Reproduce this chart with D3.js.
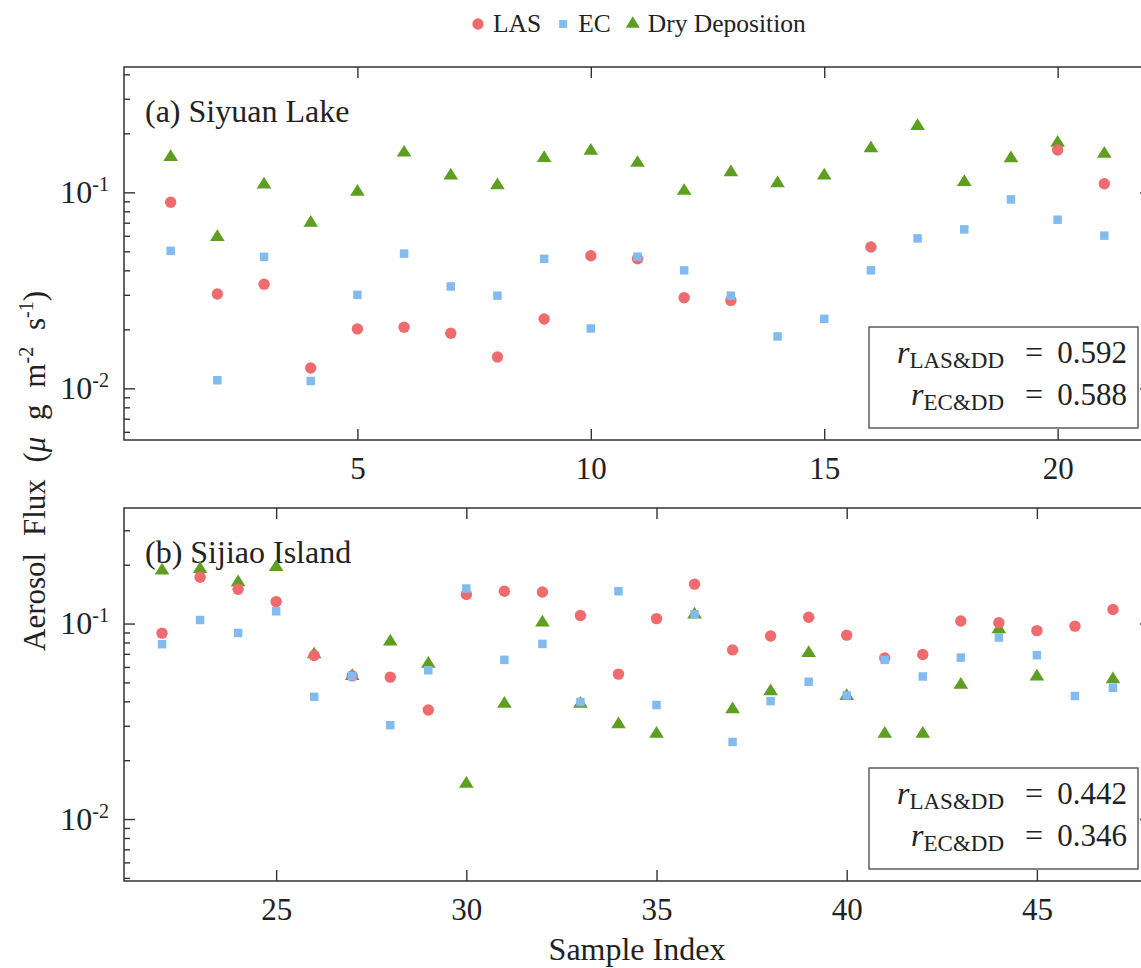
<!DOCTYPE html>
<html>
<head>
<meta charset="utf-8">
<script src="https://cdn.jsdelivr.net/npm/d3@7"></script>
<style>
  body { margin: 0; background: #fff; }
  text { font-family: "Liberation Serif", "Times New Roman", serif; fill: #222; white-space: pre; }
</style>
</head>
<body>
<svg id="chart" width="1141" height="968"></svg>
<script>
// (a) Siyuan Lake
var sampleA = [1, 2, 3, 4, 5, 6, 7, 8, 9, 10, 11, 12, 13, 14, 15, 16, 17, 18, 19, 20, 21];
var lasA = [0.089, 0.0303, 0.034, 0.0127, 0.0201, 0.0205, 0.0191, 0.01445, 0.0226, 0.0475, 0.0458,
            0.029, 0.0281, null, null, 0.0526, null, null, null, 0.1644, 0.1106];
var ecA = [0.0503, 0.011, 0.0469, 0.0109, 0.030, 0.0487, 0.0331, 0.0297, 0.0458, 0.0202, 0.047,
           0.040, 0.0297, 0.0184, 0.0226, 0.040, 0.0582, 0.0647, 0.092, 0.0725, 0.0601];
var ddA = [0.155, 0.0605, 0.112, 0.0716, 0.103, 0.163, 0.1245, 0.111, 0.153, 0.1665, 0.1445,
           0.104, 0.1295, 0.1138, 0.1245, 0.1717, 0.223, 0.1155, 0.1527, 0.183, 0.161];

// (b) Sijiao Island
var sampleB = [22, 23, 24, 25, 26, 27, 28, 29, 30, 31, 32, 33, 34, 35, 36, 37, 38, 39, 40, 41, 42, 43, 44, 45, 46, 47];
var lasB = [0.0893, 0.1725, 0.1497, 0.1295, 0.0686, 0.054, 0.0532, 0.0361, 0.141, 0.1463, 0.145, 0.11, 0.0551,
            0.106, 0.159, 0.0733, 0.0864, 0.1077, 0.0872, 0.0667, 0.0695, 0.103, 0.101, 0.092, 0.097, 0.118];
var ecB = [0.0784, 0.1043, 0.0895, 0.1155, 0.0422, 0.0538, 0.0302, 0.0577, 0.151, 0.0652, 0.0787, 0.0397, 0.1463,
           0.0383, 0.1116, 0.0248, 0.0401, 0.0504, 0.0429, 0.0652, 0.0536, 0.067, 0.0848, 0.0689, 0.0426, 0.0469];
var ddB = [0.191, 0.1945, 0.1665, 0.1987, 0.0711, 0.0551, 0.0828, 0.0637, 0.0155, 0.0398, 0.1036, 0.0398, 0.0312,
           0.0279, 0.1138, 0.0373, 0.046, 0.0722, 0.0435, 0.0279, 0.0279, 0.0497, 0.0955, 0.0548, null, 0.053];

var xTicksA = [5, 10, 15, 20];
var xTicksB = [25, 30, 35, 40, 45];
var yMajor = [0.01, 0.1];
var seriesNames = ["LAS", "EC", "Dry Deposition"];
var corrA = ["0.592", "0.588"];
var corrB = ["0.442", "0.346"];

var colors = {LAS: "#ef6b6e", EC: "#82bbef", DD: "#5e9e22"};
var axisColor = "#333";

var svg = d3.select("#chart");
var left = 124, right = 1151;

// triangle drawn around its box centre
var tri = {
    draw: function(ctx, size) {
        var w = Math.sqrt(size), h = w * 0.8;
        ctx.moveTo(0, -h / 2);
        ctx.lineTo(w / 2, h / 2);
        ctx.lineTo(-w / 2, h / 2);
        ctx.closePath();
    }
};

function drawPanel(p) {
    var x = d3.scaleLinear().domain(p.xDomain).range([left, right]);
    var y = d3.scaleLog().domain(p.yDomain).range([p.bottom, p.top]);
    var g = svg.append("g");

    var minor = y.ticks().filter(function(v) {
        return Math.abs(Math.log10(v) - Math.round(Math.log10(v))) > 1e-6;
    });

    function style(sel) {
        sel.select(".domain").remove();
        sel.selectAll("line").attr("stroke", axisColor).attr("stroke-width", 1.4);
    }

    g.append("g").attr("transform", "translate(0," + p.bottom + ")")
        .call(d3.axisBottom(x).tickValues(p.xTicks).tickSize(-11).tickPadding(17).tickFormat(d3.format("d")))
        .call(style)
        .selectAll("text").attr("font-size", 31).attr("fill", "#222");
    g.append("g").attr("transform", "translate(0," + p.top + ")")
        .call(d3.axisTop(x).tickValues(p.xTicks).tickSize(-11).tickFormat(""))
        .call(style);

    [[d3.axisLeft, left], [d3.axisRight, right]].forEach(function(a) {
        g.append("g").attr("transform", "translate(" + a[1] + ",0)")
            .call(a[0](y).tickValues(yMajor).tickSize(-11).tickFormat(""))
            .call(style);
        g.append("g").attr("transform", "translate(" + a[1] + ",0)")
            .call(a[0](y).tickValues(minor).tickSize(-6).tickFormat(""))
            .call(style);
    });

    // log labels 10^n
    var lab = g.selectAll(".ylab").data(yMajor).enter().append("text")
        .attr("class", "ylab")
        .attr("x", 109)
        .attr("y", function(d) { return y(d) + 10.5; })
        .attr("text-anchor", "end")
        .attr("font-size", 32);
    lab.append("tspan").text("10");
    lab.append("tspan").attr("font-size", 20).attr("dy", -12)
        .text(function(d) { return "-" + Math.round(-Math.log10(d)); });

    g.append("rect")
        .attr("x", left).attr("y", p.top)
        .attr("width", right - left).attr("height", p.bottom - p.top)
        .attr("fill", "none").attr("stroke", axisColor).attr("stroke-width", 1.5);

    g.append("text").attr("x", 145).attr("y", p.top + 55).attr("font-size", 32).text(p.title);

    var sets = [
        {vals: p.dd, type: tri, size: 215, color: colors.DD},
        {vals: p.las, type: d3.symbolCircle, size: 102, color: colors.LAS},
        {vals: p.ec, type: d3.symbolSquare, size: 72, color: colors.EC}
    ];
    sets.forEach(function(s) {
        var pts = p.samples.map(function(d, i) { return [d, s.vals[i]]; })
            .filter(function(d) { return d[1] !== null; });
        g.selectAll(null).data(pts).enter().append("path")
            .attr("d", d3.symbol().type(s.type).size(s.size))
            .attr("transform", function(d) { return "translate(" + x(d[0]) + "," + y(d[1]) + ")"; })
            .attr("fill", s.color);
    });

    // correlation box
    var bx = 869, by = p.bottom - 113, bw = 269, bh = 101;
    g.append("rect").attr("x", bx).attr("y", by).attr("width", bw).attr("height", bh)
        .attr("fill", "#fff").attr("stroke", "#444").attr("stroke-width", 1.3);
    [["LAS&DD", p.corr[0]], ["EC&DD", p.corr[1]]].forEach(function(c, i) {
        var base = by + 36 + i * 42;
        g.append("text").attr("x", 1127).attr("y", base).attr("text-anchor", "end")
            .attr("font-size", 31).text(c[1]);
        g.append("text").attr("x", 1034).attr("y", base).attr("text-anchor", "middle")
            .attr("font-size", 32).text("=");
        var t = g.append("text").attr("x", 1004).attr("y", base).attr("text-anchor", "end").attr("font-size", 32);
        t.append("tspan").attr("font-style", "italic").text("r");
        t.append("tspan").attr("font-size", 23).attr("dy", 5).text(c[0]);
    });
}

drawPanel({
    top: 67, bottom: 440, xDomain: [0, 22], yDomain: [0.00545, 0.436],
    xTicks: xTicksA, samples: sampleA, las: lasA, ec: ecA, dd: ddA,
    title: "(a) Siyuan Lake", corr: corrA
});
drawPanel({
    top: 508, bottom: 881, xDomain: [21, 48], yDomain: [0.00482, 0.39],
    xTicks: xTicksB, samples: sampleB, las: lasB, ec: ecB, dd: ddB,
    title: "(b) Sijiao Island", corr: corrB
});

// axis titles
svg.append("text").attr("x", 637).attr("y", 960).attr("text-anchor", "middle")
    .attr("font-size", 32).text("Sample Index");

var yl = svg.append("text").attr("transform", "translate(45,471) rotate(-90)")
    .attr("text-anchor", "middle").attr("font-size", 31).attr("word-spacing", 9);
yl.append("tspan").text("Aerosol Flux (");
yl.append("tspan").attr("font-style", "italic").text("\u03bc");
yl.append("tspan").text(" g m");
yl.append("tspan").attr("font-size", 20).attr("dy", -12).text("-2");
yl.append("tspan").attr("dy", 12).text(" s");
yl.append("tspan").attr("font-size", 20).attr("dy", -12).text("-1");
yl.append("tspan").attr("dy", 12).text(")");

// legend
var legend = svg.append("g");
var lx = 478;
var legItems = [
    {name: seriesNames[0], type: d3.symbolCircle, size: 100, color: colors.LAS, dy: 24},
    {name: seriesNames[1], type: d3.symbolSquare, size: 64, color: colors.EC, dy: 24},
    {name: seriesNames[2], type: tri, size: 200, color: colors.DD, dy: 22}
];
legItems.forEach(function(it) {
    legend.append("path").attr("d", d3.symbol().type(it.type).size(it.size))
        .attr("transform", "translate(" + lx + "," + it.dy + ")").attr("fill", it.color);
    var t = legend.append("text").attr("x", lx + 15).attr("y", 32).attr("font-size", 25.5).text(it.name);
    lx = lx + 15 + t.node().getComputedTextLength() + 22;
});
</script>
</body>
</html>
